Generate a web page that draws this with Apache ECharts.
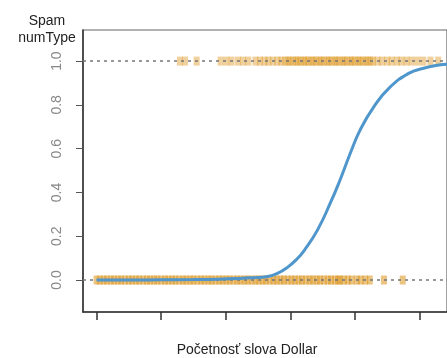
<!DOCTYPE html>
<html>
<head>
<meta charset="utf-8">
<script src="https://cdn.jsdelivr.net/npm/echarts@6/dist/echarts.min.js"></script>
<style>html,body{margin:0;padding:0;background:#fff}#c{width:447px;height:358px}</style>
</head>
<body>
<div id="c"></div>
<script>
// Observations with Spam = 0 (x positions, "Početnosť slova Dollar")
var spam0X = [0.00,0.05,0.11,0.16,0.22,0.27,0.33,0.38,0.44,0.50,0.55,0.61,0.66,0.72,0.78,0.83,0.89,0.94,1.00,
  1.06,1.11,1.17,1.22,1.28,1.34,1.39,1.45,1.50,1.56,1.62,1.67,1.73,1.78,1.84,1.90,1.95,2.01,2.06,2.12,2.18,
  2.23,2.29,2.34,2.40,2.46,2.51,2.57,2.62,2.68,2.74,2.79,2.85,2.90,2.96,3.02,3.07,3.13,3.18,3.24,3.30,3.35,
  3.41,3.46,3.52,3.58,3.63,3.69,3.74,3.77,3.83,3.89,3.95,4.03,4.09,4.16,4.23,4.45,4.74];
// Observations with Spam = 1
var spam1X = [1.29,1.37,1.55,1.92,2.01,2.09,2.19,2.27,2.35,
  2.46,2.53,2.60,2.66,2.73,2.80,2.86,2.92,2.96,3.00,3.04,3.09,3.12,3.16,3.21,3.24,3.28,3.33,3.36,3.40,3.45,
  3.48,3.52,3.57,3.60,3.64,3.69,3.72,3.76,3.81,3.84,3.88,3.93,3.96,4.00,4.05,4.08,4.12,4.17,4.20,4.24,4.28,
  4.35,4.42,4.50,4.57,4.65,4.72,4.80,4.88,4.97,5.06,5.17,5.29];
// Fitted logistic curve
var curveX = [0.00,0.50,1.00,1.50,1.89,2.20,2.39,2.65,2.80,2.96,3.10,3.22,3.42,3.62,3.77,3.93,4.08,4.29,4.54,4.84,5.05,5.30,5.43];
var curveY = [0.000,0.000,0.001,0.002,0.004,0.007,0.010,0.016,0.030,0.059,0.095,0.137,0.228,0.352,0.457,0.580,0.685,0.790,0.880,0.945,0.966,0.982,0.986];
var yTicks = [0,0.2,0.4,0.6,0.8,1.0];
var xTicks = [0,1,2,3,4,5];

var chart = echarts.init(document.getElementById('c'));
var font = 'Liberation Sans, Arial, sans-serif';
var ptColor = 'rgba(220,150,32,0.7)';
chart.setOption({
  animation: false,
  grid: {left: 83, top: 30, bottom: 46, right: -4, show: true, borderColor: '#666', borderWidth: 1.2, backgroundColor: 'transparent'},
  xAxis: {
    type: 'value', min: -0.21, max: 5.426,
    axisLine: {show: true, onZero: false, lineStyle: {color: '#333', width: 1.5}},
    axisTick: {show: true, length: 8, lineStyle: {color: '#333', width: 1.5}, customValues: xTicks},
    axisLabel: {show: false},
    splitLine: {show: false}
  },
  yAxis: {
    type: 'value', min: -0.146, max: 1.142,
    axisLine: {show: true, onZero: false, lineStyle: {color: '#333', width: 1.5}},
    axisTick: {show: true, length: 7, lineStyle: {color: '#555', width: 1}, customValues: yTicks},
    axisLabel: {show: true, rotate: 90, color: '#888', fontSize: 14, fontFamily: font, margin: 19,
      customValues: yTicks, formatter: function (v) { return v.toFixed(1); }},
    splitLine: {show: false}
  },
  title: {
    text: 'Spam\nnumType', left: 42, top: 8, textAlign: 'center',
    textStyle: {fontSize: 14, fontWeight: 'normal', color: '#222', fontFamily: font, lineHeight: 17}
  },
  graphic: [{
    type: 'text', x: 247, y: 343,
    style: {text: 'Početnosť slova Dollar', fontSize: 14, fill: '#222', fontFamily: font, textAlign: 'center'}
  }],
  series: [
    {
      type: 'scatter', symbol: 'rect', symbolSize: [6, 9],
      itemStyle: {color: ptColor},
      data: spam0X.map(function (x) { return [x, 0]; }), z: 2
    },
    {
      type: 'scatter', symbol: 'rect', symbolSize: [6, 9],
      itemStyle: {color: 'rgba(220,150,32,0.55)'},
      data: spam1X.map(function (x) { return [x, 1]; }), z: 2
    },
    {
      type: 'line', data: [], z: 3,
      markLine: {
        silent: true, symbol: 'none', label: {show: false}, z: 3,
        lineStyle: {type: [3, 4], color: '#777', width: 1.5},
        data: [{yAxis: 0}, {yAxis: 1}]
      }
    },
    {
      type: 'line', smooth: true, showSymbol: false, z: 4,
      lineStyle: {color: '#4f96cc', width: 3},
      data: curveX.map(function (x, i) { return [x, curveY[i]]; })
    }
  ]
});
</script>
</body>
</html>
